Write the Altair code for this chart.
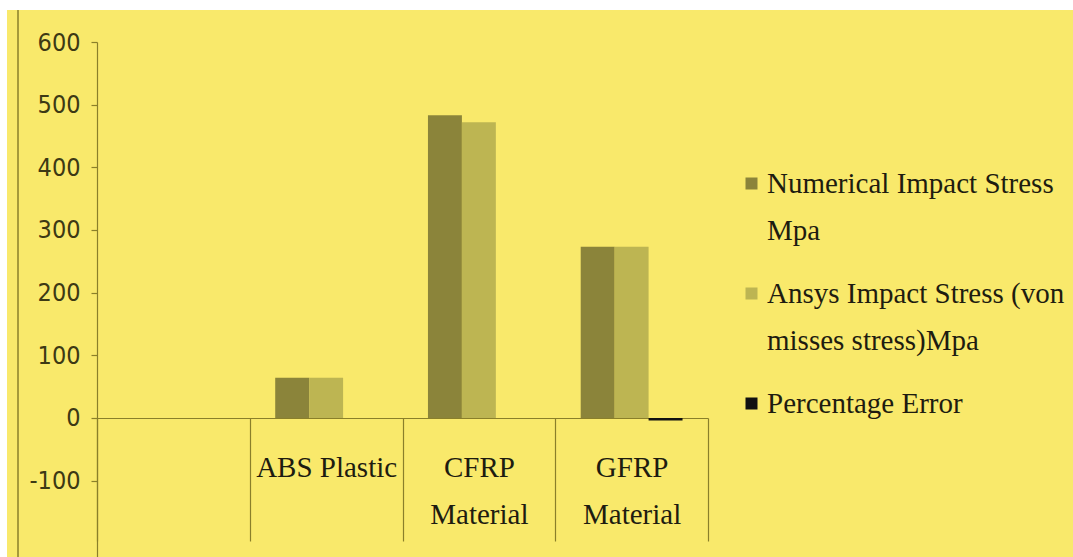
import altair as alt
import pandas as pd

categories = [" ", "ABS Plastic", "CFRP Material", "GFRP Material"]
materials = ["ABS Plastic", "CFRP Material", "GFRP Material"]
series = [
    "Numerical Impact Stress Mpa",
    "Ansys Impact Stress (von misses stress)Mpa",
    "Percentage Error",
]
numerical = [64, 483, 273]
ansys = [64, 472, 273]
pct_error = [0, 0, -4]
colors = ["#8b843a", "#bdb552", "#111111"]

rows = []
for i, m in enumerate(materials):
    rows.append({"Material": m, "Series": series[0], "Value": numerical[i]})
    rows.append({"Material": m, "Series": series[1], "Value": ansys[i]})
    rows.append({"Material": m, "Series": series[2], "Value": pct_error[i]})
df = pd.DataFrame(rows)

BG = "#f9e96b"
AXIS = "#8a7f2a"
W, H = 611, 515

legend_expr = (
    "datum.label == 'Numerical Impact Stress Mpa' ? ['Numerical Impact Stress', 'Mpa'] : "
    "datum.label == 'Ansys Impact Stress (von misses stress)Mpa' ? "
    "['Ansys Impact Stress (von', 'misses stress)Mpa'] : datum.label"
)

bars = alt.Chart(df).mark_bar().encode(
    x=alt.X(
        "Material:N",
        sort=categories,
        scale=alt.Scale(domain=categories, paddingInner=0, paddingOuter=0),
        axis=alt.Axis(
            title=None,
            orient="bottom",
            offset=-139,
            tickBand="extent",
            tickSize=123,
            tickColor=AXIS,
            domainColor=AXIS,
            labelAngle=0,
            labelFont="Liberation Serif",
            labelFontSize=29,
            labelColor="#1e1c10",
            labelBaseline="top",
            labelPadding=-88,
            labelLineHeight=47,
            labelExpr=(
                "!isValid(datum.value) || datum.value == ' ' ? '' : "
                "datum.value == 'ABS Plastic' ? datum.value : split(datum.value, ' ')"
            ),
        ),
    ),
    xOffset=alt.XOffset(
        "Series:N",
        sort=series,
        scale=alt.Scale(domain=series, paddingInner=0, paddingOuter=0.75),
    ),
    y=alt.Y(
        "Value:Q",
        scale=alt.Scale(domain=[-222, 600], nice=False, zero=False),
        axis=alt.Axis(
            title=None,
            values=[-100, 0, 100, 200, 300, 400, 500, 600],
            grid=False,
            tickSize=6,
            tickColor=AXIS,
            domainColor=AXIS,
            labelFont="DejaVu Sans Condensed, DejaVu Sans, sans-serif",
            labelFontSize=25,
            labelColor="#3d3914",
            labelPadding=11,
            labelExpr="'' + datum.value",
        ),
    ),
    color=alt.Color(
        "Series:N",
        sort=series,
        scale=alt.Scale(domain=series, range=colors),
        legend=alt.Legend(
            title=None,
            orient="none",
            legendX=640,
            legendY=127,
            symbolType="square",
            symbolSize=144,
            symbolStrokeWidth=0,
            labelFont="Liberation Serif",
            labelFontSize=29,
            labelColor="#1e1c10",
            labelLimit=400,
            labelOffset=1,
            labelExpr=legend_expr,
            rowPadding=33,
        ),
    ),
)

one = alt.Data(values=[{"a": 1}])
left_line = alt.Chart(one).mark_rule(color=AXIS, strokeWidth=1.5).encode(
    x=alt.value(-79), y=alt.value(-32), y2=alt.value(H)
)
top_strip = alt.Chart(one).mark_rect(color="white").encode(
    x=alt.value(-97), x2=alt.value(976), y=alt.value(-42), y2=alt.value(-32)
)
left_strip = alt.Chart(one).mark_rect(color="white").encode(
    x=alt.value(-97), x2=alt.value(-90), y=alt.value(-42), y2=alt.value(H)
)

chart = alt.layer(top_strip, left_strip, left_line, bars).properties(
    width=W,
    height=H,
    background=BG,
    padding={"left": 97, "top": 42, "right": 365, "bottom": 0},
    autosize=alt.AutoSizeParams(type="none"),
).configure(
    style={"guide-label": {"lineHeight": 47}},
    view=alt.ViewConfig(stroke=None),
    axis=alt.AxisConfig(domainWidth=1.2, tickWidth=1.2),
)

chart.save("out.html", embed_options={"renderer": "svg", "actions": False})
